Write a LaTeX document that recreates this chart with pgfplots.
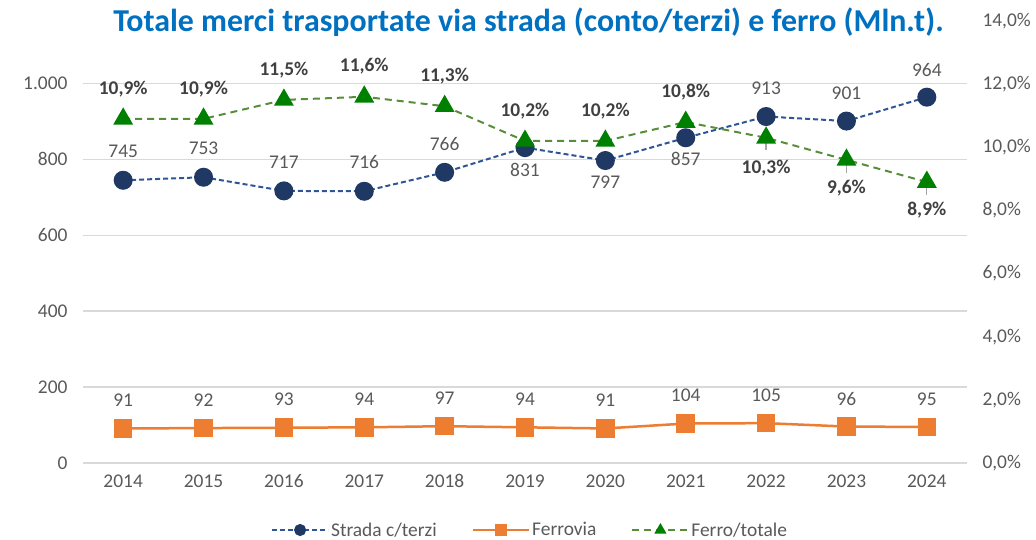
\documentclass[border=0pt]{standalone}
\usepackage{pgfplots}
\pgfplotsset{compat=1.18}
\usepackage{pgfplotstable}
\usepackage{fontspec}
\setmainfont{Carlito}
\definecolor{txt}{RGB}{89,89,89}
\definecolor{txtd}{RGB}{64,64,64}
\definecolor{gridc}{RGB}{217,217,217}
\definecolor{navy}{RGB}{31,56,100}
\definecolor{navyl}{RGB}{47,85,151}
\definecolor{orng}{RGB}{237,125,49}
\definecolor{grn}{RGB}{0,128,0}
\definecolor{grnl}{RGB}{88,142,58}
\definecolor{ttl}{RGB}{0,112,192}

\pgfplotstableread{
x y dy
2014 745 29
2015 753 29
2016 717 29
2017 716 29
2018 766 28
2019 831 -22
2020 797 -22
2021 857 -21
2022 913 28
2023 901 28
2024 964 27
}\strada

\pgfplotstableread{
x y dy
2014 91 28
2015 92 28
2016 93 28
2017 94 28
2018 97 28
2019 94 28
2020 91 28
2021 104 28
2022 105 28
2023 96 28
2024 95 28
}\ferrovia

\pgfplotstableread{
x y lab dy err
2014 10.9 10,9 30 0
2015 10.9 10,9 30 0
2016 11.5 11,5 30 0
2017 11.6 11,6 31 0
2018 11.3 11,3 30 0
2019 10.2 10,2 30 0
2020 10.2 10,2 30 0
2021 10.8 10,8 30 0
2022 10.3 10,3 -30 0.4
2023 9.6 9,6 -28 0.4
2024 8.9 8,9 -28 0.4
}\ferro

\newcommand{\fnt}{\fontsize{19.5}{23}\selectfont}

\begin{document}
\begin{tikzpicture}
\path[use as bounding box] (-83bp,-77bp) rectangle (953bp,463bp);
\begin{axis}[
  at={(0,0)}, anchor=south west,
  scale only axis, width=884bp, height=442bp,
  xmin=2013.5, xmax=2024.5, ymin=0, ymax=1164.7,
  xtick={2014,2015,2016,2017,2018,2019,2020,2021,2022,2023,2024},
  xticklabels={2014,2015,2016,2017,2018,2019,2020,2021,2022,2023,2024},
  ytick={0,200,400,600,800,1000},
  yticklabels={0,200,400,600,800,1.000},
  axis line style={draw=none}, major tick length=0pt,
  ymajorgrids, major grid style={draw=gridc, line width=1.5bp},
  ticklabel style={font=\fnt, text=txt},
  yticklabel style={xshift=-12bp},
  xticklabel style={yshift=-8bp},
  clip=false,
]
\addplot[navyl, line width=2bp, dash pattern=on 5bp off 3bp,
  mark=*, mark size=8.5bp, mark options={solid, fill=navy, draw=navy},
  point meta=explicit symbolic, nodes near coords,
  nodes near coords align={center},
  visualization depends on={\thisrow{dy} \as \dy},
  every node near coord/.append style={anchor=center, yshift=\dy bp, font=\fnt, text=txt}]
  table[x=x,y=y,meta=y] {\strada};
\addplot[orng, line width=2.5bp,
  mark=square*, mark size=8bp, mark options={solid, fill=orng, draw=orng},
  point meta=explicit symbolic, nodes near coords,
  nodes near coords align={center},
  visualization depends on={\thisrow{dy} \as \dy},
  every node near coord/.append style={anchor=center, yshift=\dy bp, font=\fnt, text=txt}]
  table[x=x,y=y,meta=y] {\ferrovia};
\end{axis}
\begin{axis}[
  at={(0,0)}, anchor=south west,
  scale only axis, width=884bp, height=442bp,
  xmin=2013.5, xmax=2024.5, ymin=0, ymax=14,
  xtick=\empty,
  ytick={0,2,4,6,8,10,12,14},
  yticklabels={{0,0\%},{2,0\%},{4,0\%},{6,0\%},{8,0\%},{10,0\%},{12,0\%},{14,0\%}},
  yticklabel pos=right,
  axis line style={draw=none}, major tick length=0pt,
  ticklabel style={font=\fnt, text=txt},
  yticklabel style={xshift=12bp},
  clip=false,
  legend style={at={(0.5057,-0.1516)}, anchor=center, draw=none, fill=none,
    font=\fnt, text=txt, legend columns=3,
    /tikz/every even column/.append style={column sep=33bp}},
  legend cell align=left,
  legend image code/.code={\draw[mark repeat=2,mark phase=2,#1,mark size=5bp] plot coordinates {(0bp,0bp)(28bp,0bp)(56bp,0bp)};},
]
\addlegendimage{navyl, line width=2bp, dash pattern=on 5bp off 3bp, mark=*, mark options={solid, fill=navy, draw=navy}}
\addlegendentry{Strada c/terzi}
\addlegendimage{orng, line width=2.5bp, mark=square*, mark options={solid, fill=orng, draw=orng}}
\addlegendentry{Ferrovia}
\addlegendimage{grnl, line width=2bp, dash pattern=on 7bp off 5bp, mark=triangle*, mark options={solid, fill=grn, draw=grn}}
\addlegendentry{Ferro/totale}
\addplot[grnl, line width=2bp, dash pattern=on 7bp off 5bp, forget plot,
  mark=triangle*, mark size=9.5bp, mark options={solid, fill=grn, draw=grn},
  error bars/.cd, y dir=minus, y explicit, error mark=none,
  error bar style={solid, draw=gray!70, line width=1.3bp}]
  table[x=x,y=y,y error minus=err] {\ferro};
\addplot[draw=none, forget plot,
  point meta=explicit symbolic, nodes near coords={\pgfplotspointmeta\%},
  nodes near coords align={center},
  visualization depends on={\thisrow{dy} \as \dy},
  every node near coord/.append style={anchor=center, yshift=\dy bp, font=\fnt\bfseries, text=txtd}]
  table[x=x,y=y,meta=lab] {\ferro};
\end{axis}
\node[anchor=base, font=\bfseries\fontsize{32}{38}\selectfont, text=ttl] at (445.5bp,431bp)
  {Totale merci trasportate via strada (conto/terzi) e ferro (Mln.t).};
\end{tikzpicture}
\end{document}
